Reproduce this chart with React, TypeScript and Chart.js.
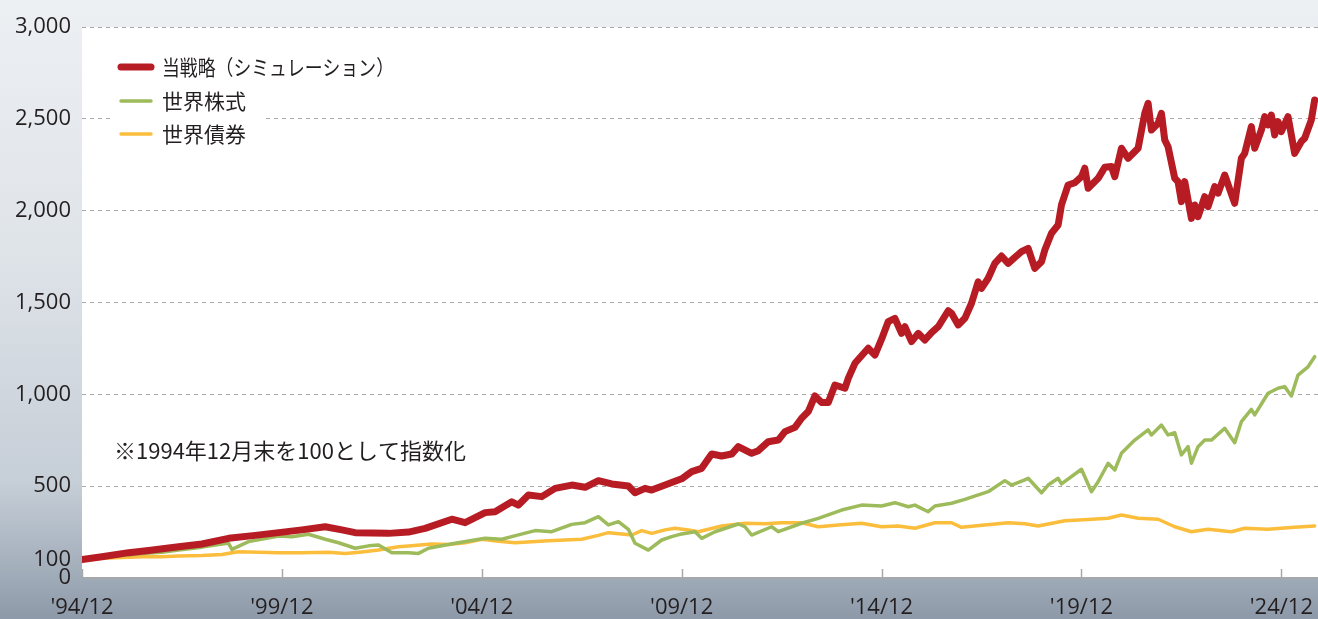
import React, { useEffect, useRef } from "react";
import { Chart, registerables } from "chart.js";

Chart.register(...registerables);

const seriesLabels = ["当戦略（シミュレーション）", "世界株式", "世界債券"];
const noteText = "※1994年12月末を100として指数化";

// months since 1994/12
const strategyMonths = [0, 6, 14, 20, 29, 36, 44, 52, 59, 66, 73, 78, 82, 87, 92, 98, 103, 111, 115, 121, 124, 129, 131, 134, 138, 142, 147, 151, 155, 159, 164, 166, 169, 171, 175, 180, 183, 186, 189, 192, 195, 197, 201, 203, 206, 209, 211, 214, 216, 218, 220, 222, 224, 226, 229, 230, 232, 236, 238, 240, 242, 244, 246, 247, 249, 251, 253, 255, 257, 260, 261, 263, 265, 267, 269, 270, 272, 274, 276, 278, 280, 282, 284, 286, 288, 289, 291, 293, 294, 296, 298, 300, 301, 302, 305, 307, 309, 310, 312, 314, 317, 319, 320, 321, 323, 324, 325, 326, 328, 329, 330, 331, 333, 334, 335, 337, 338, 340, 341, 343, 346, 348, 349, 351, 352, 354, 355, 356, 357, 358, 359, 360, 362, 364, 366, 367, 369, 370];
const strategyValues = [100, 116, 138, 150, 170, 185, 216, 232, 247, 262, 279, 262, 247, 245, 243, 250, 270, 320, 301, 356, 361, 415, 397, 452, 443, 488, 506, 494, 530, 512, 501, 464, 488, 479, 506, 540, 579, 597, 675, 664, 675, 715, 679, 693, 742, 751, 797, 820, 870, 906, 991, 955, 955, 1051, 1033, 1087, 1169, 1251, 1214, 1300, 1396, 1414, 1332, 1368, 1287, 1332, 1296, 1336, 1368, 1455, 1441, 1378, 1414, 1496, 1613, 1577, 1632, 1713, 1753, 1713, 1746, 1777, 1795, 1686, 1722, 1786, 1877, 1922, 2031, 2140, 2152, 2185, 2231, 2122, 2176, 2236, 2240, 2185, 2340, 2285, 2340, 2530, 2585, 2439, 2476, 2530, 2385, 2348, 2176, 2158, 2049, 2158, 1958, 2031, 1967, 2076, 2022, 2131, 2095, 2194, 2040, 2285, 2312, 2458, 2340, 2439, 2512, 2467, 2521, 2412, 2485, 2430, 2512, 2312, 2376, 2394, 2494, 2603];

const stockMonths = [0, 6, 12, 18, 24, 29, 36, 42, 44, 45, 50, 55, 59, 63, 68, 73, 77, 82, 86, 89, 93, 98, 101, 104, 112, 121, 126, 131, 136, 141, 147, 151, 155, 158, 161, 164, 166, 170, 174, 177, 180, 184, 186, 190, 197, 199, 201, 207, 209, 216, 221, 228, 234, 240, 244, 248, 250, 254, 256, 261, 265, 272, 277, 279, 283, 284, 288, 290, 293, 294, 300, 303, 305, 308, 310, 312, 316, 320, 321, 324, 326, 328, 330, 332, 333, 335, 337, 339, 343, 346, 348, 351, 352, 356, 359, 361, 363, 365, 368, 370];
const stockValues = [100, 112, 122, 133, 140, 152, 168, 185, 189, 156, 198, 215, 229, 225, 238, 211, 192, 162, 175, 180, 138, 138, 134, 162, 189, 216, 211, 235, 258, 252, 292, 301, 334, 289, 307, 265, 189, 152, 207, 225, 240, 252, 216, 252, 294, 279, 234, 279, 252, 298, 325, 370, 397, 392, 410, 388, 397, 361, 392, 407, 428, 470, 530, 506, 534, 543, 464, 506, 543, 512, 592, 470, 524, 625, 588, 679, 751, 806, 779, 833, 779, 791, 670, 715, 625, 715, 751, 751, 815, 737, 851, 918, 888, 1006, 1033, 1042, 991, 1105, 1150, 1205];

const bondMonths = [0, 6, 12, 18, 24, 29, 36, 42, 45, 47, 53, 59, 66, 74, 79, 84, 89, 95, 98, 105, 110, 115, 120, 125, 130, 135, 140, 145, 150, 155, 158, 162, 165, 168, 171, 175, 178, 182, 185, 192, 199, 205, 210, 216, 221, 228, 234, 240, 245, 250, 256, 261, 264, 271, 278, 283, 287, 295, 302, 308, 312, 317, 323, 328, 333, 338, 345, 349, 356, 360, 364, 370];
const bondValues = [100, 107, 112, 116, 116, 120, 122, 128, 138, 143, 140, 138, 137, 140, 134, 142, 152, 170, 174, 185, 183, 192, 211, 200, 192, 198, 203, 207, 211, 232, 247, 240, 234, 258, 243, 262, 271, 261, 252, 283, 298, 296, 301, 301, 279, 290, 298, 279, 283, 271, 301, 301, 276, 289, 301, 295, 283, 312, 318, 325, 343, 325, 320, 279, 252, 265, 252, 271, 265, 271, 276, 283];

const yTickValues = [0, 100, 500, 1000, 1500, 2000, 2500, 3000];
const xTickMonths = [0, 60, 120, 180, 240, 300, 360];
const xTickLabels = ["'94/12", "'99/12", "'04/12", "'09/12", "'14/12", "'19/12", "'24/12"];

const COLORS = ["#b71c24", "#9dbb5a", "#fbbd3c"];
const WIDTHS = [7, 3.5, 3.5];
const TEXT = "#231f20";
const NUM_FONT = "'Open Sans', 'Noto Sans', sans-serif";
const JP_FONT = "'Noto Sans CJK JP', 'Noto Sans', sans-serif";

export default function App() {
  const ref = useRef<HTMLCanvasElement>(null);

  useEffect(() => {
    document.body.style.margin = "0";
    const canvas = ref.current!;
    const toPts = (m: number[], v: number[]) => m.map((x, i) => ({ x, y: v[i] }));

    const plotBg = {
      id: "plotBg",
      beforeDraw(chart: any) {
        const { ctx, chartArea: a } = chart;
        ctx.save();
        ctx.fillStyle = "#ffffff";
        ctx.fillRect(a.left, a.top, a.right - a.left, a.bottom - a.top);
        ctx.restore();
      },
    };

    const overlay = {
      id: "overlay",
      afterDraw(chart: any) {
        const { ctx, chartArea: a } = chart;
        const xs = chart.scales.x;
        ctx.save();
        // inward x ticks
        ctx.strokeStyle = "#a8a8a8";
        ctx.lineWidth = 1.5;
        xTickMonths.forEach((m) => {
          const px = Math.round(xs.getPixelForValue(m)) + 0.5;
          ctx.beginPath();
          ctx.moveTo(px, a.bottom - 9);
          ctx.lineTo(px, a.bottom);
          ctx.stroke();
        });
        // legend background
        ctx.fillStyle = "#ffffff";
        ctx.fillRect(a.left + 28, a.top + 58, 155, 66);
        // legend
        const items = [67, 101, 134];
        chart.data.datasets.forEach((ds: any, i: number) => {
          const y = items[i];
          ctx.strokeStyle = ds.borderColor;
          ctx.lineWidth = i === 0 ? 7 : 3.5;
          ctx.lineCap = "round";
          ctx.beginPath();
          ctx.moveTo(121, y);
          ctx.lineTo(151, y);
          ctx.stroke();
          ctx.fillStyle = TEXT;
          ctx.font = `21px ${JP_FONT}`;
          ctx.textBaseline = "middle";
          ctx.textAlign = "left";
          if (i === 0) ctx.fillText(ds.label, 162, y, 232);
          else ctx.fillText(ds.label, 162, y);
        });
        // note
        ctx.font = `22px ${JP_FONT}`;
        ctx.fillStyle = TEXT;
        ctx.textBaseline = "middle";
        ctx.fillText(noteText, 114, 451);
        ctx.restore();
      },
    };

    const chart = new Chart(canvas, {
      type: "line",
      data: {
        datasets: [
          { label: seriesLabels[0], data: toPts(strategyMonths, strategyValues) },
          { label: seriesLabels[1], data: toPts(stockMonths, stockValues) },
          { label: seriesLabels[2], data: toPts(bondMonths, bondValues) },
        ].map((d, i) => ({
          ...d,
          borderColor: COLORS[i],
          backgroundColor: COLORS[i],
          borderWidth: WIDTHS[i],
          pointRadius: 0,
          tension: 0,
          borderJoinStyle: "round" as const,
          borderCapStyle: "round" as const,
          fill: false,
        })),
      },
      options: {
        responsive: false,
        animation: false,
        layout: { padding: { top: 27, right: 0, left: 0, bottom: 0 } },
        plugins: { legend: { display: false }, tooltip: { enabled: false } },
        scales: {
          x: {
            type: "linear",
            min: 0,
            max: 371,
            afterFit: (s: any) => {
              s.height = 41;
              s.paddingLeft = 0;
              s.paddingRight = 0;
            },
            afterBuildTicks: (s: any) => {
              s.ticks = xTickMonths.map((v) => ({ value: v }));
            },
            grid: { display: false, drawTicks: false },
            border: { display: true, color: "#a8a8a8", width: 1.5 },
            ticks: {
              padding: 17,
              color: TEXT,
              font: { family: NUM_FONT, size: 22 },
              maxRotation: 0,
              autoSkip: false,
              callback: (v: any) => {
                const i = xTickMonths.indexOf(Number(v));
                return i >= 0 ? xTickLabels[i] : "";
              },
            },
          },
          y: {
            min: 0,
            max: 3000,
            afterFit: (s: any) => {
              s.width = 82;
              s.paddingTop = 0;
              s.paddingBottom = 0;
            },
            afterBuildTicks: (s: any) => {
              s.ticks = yTickValues.map((v) => ({ value: v }));
            },
            grid: {
              drawTicks: false,
              color: (c: any) => (c.tick && c.tick.value >= 500 ? "#a9a9a9" : "rgba(0,0,0,0)"),
              lineWidth: 1,
            },
            border: { display: false, dash: [4, 4] },
            ticks: {
              padding: 11,
              color: TEXT,
              font: { family: NUM_FONT, size: 22 },
              autoSkip: false,
              callback: (v: any) => Number(v).toLocaleString("en-US"),
            },
          },
        },
      },
      plugins: [plotBg, overlay],
    } as any);

    return () => chart.destroy();
  }, []);

  return (
    <div
      style={{
        position: "relative",
        width: 1318,
        height: 619,
        overflow: "hidden",
        background:
          "linear-gradient(180deg, #edf0f3 0%, #dfe4e9 40%, #c6ced7 78%, #a3aebb 92%, #8d99a8 100%)",
      }}
    >
      <canvas ref={ref} width={1318} height={619} style={{ display: "block" }} />
    </div>
  );
}
